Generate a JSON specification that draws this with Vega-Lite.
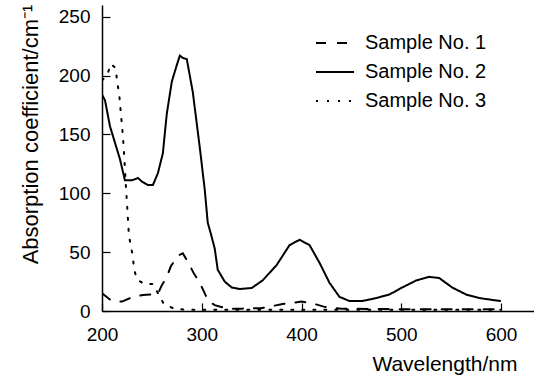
{
  "$schema": "https://vega.github.io/schema/vega-lite/v6.json",
  "autosize": {"type": "none"},
  "padding": {"left": 102, "top": 5, "right": 0, "bottom": 69},
  "width": 432,
  "height": 306,
  "config": {
    "view": {"stroke": null},
    "axis": {"grid": false, "domainColor": "black", "domainWidth": 1.5, "tickColor": "black", "tickWidth": 1.2, "labelColor": "black", "titleColor": "black", "labelFontSize": 19, "titleFontSize": 22, "titleFontWeight": "normal", "labelFlush": false},
    "legend": {"labelFontSize": 20, "labelColor": "black", "padding": 0}
  },
  "data": {"values": [
    {"s": "Sample No. 1", "w": 200, "a": 15},
    {"s": "Sample No. 1", "w": 210, "a": 8.5},
    {"s": "Sample No. 1", "w": 220, "a": 8},
    {"s": "Sample No. 1", "w": 231, "a": 12},
    {"s": "Sample No. 1", "w": 241, "a": 13.5},
    {"s": "Sample No. 1", "w": 256, "a": 14.5},
    {"s": "Sample No. 1", "w": 260, "a": 22},
    {"s": "Sample No. 1", "w": 265, "a": 29},
    {"s": "Sample No. 1", "w": 269, "a": 38},
    {"s": "Sample No. 1", "w": 276, "a": 47},
    {"s": "Sample No. 1", "w": 281, "a": 49},
    {"s": "Sample No. 1", "w": 286, "a": 42},
    {"s": "Sample No. 1", "w": 292, "a": 32},
    {"s": "Sample No. 1", "w": 298, "a": 24},
    {"s": "Sample No. 1", "w": 303, "a": 15},
    {"s": "Sample No. 1", "w": 306, "a": 9},
    {"s": "Sample No. 1", "w": 313, "a": 5},
    {"s": "Sample No. 1", "w": 325, "a": 2},
    {"s": "Sample No. 1", "w": 340, "a": 2},
    {"s": "Sample No. 1", "w": 360, "a": 2.5},
    {"s": "Sample No. 1", "w": 370, "a": 4},
    {"s": "Sample No. 1", "w": 381, "a": 6},
    {"s": "Sample No. 1", "w": 391, "a": 7},
    {"s": "Sample No. 1", "w": 400, "a": 8},
    {"s": "Sample No. 1", "w": 413, "a": 6},
    {"s": "Sample No. 1", "w": 423, "a": 3.5},
    {"s": "Sample No. 1", "w": 440, "a": 2},
    {"s": "Sample No. 1", "w": 500, "a": 1.5},
    {"s": "Sample No. 1", "w": 600, "a": 1.5},
    {"s": "Sample No. 2", "w": 200, "a": 184},
    {"s": "Sample No. 2", "w": 203, "a": 179},
    {"s": "Sample No. 2", "w": 208, "a": 157},
    {"s": "Sample No. 2", "w": 213, "a": 143},
    {"s": "Sample No. 2", "w": 218, "a": 129},
    {"s": "Sample No. 2", "w": 223, "a": 111},
    {"s": "Sample No. 2", "w": 230, "a": 111},
    {"s": "Sample No. 2", "w": 236, "a": 113},
    {"s": "Sample No. 2", "w": 240, "a": 110},
    {"s": "Sample No. 2", "w": 246, "a": 107},
    {"s": "Sample No. 2", "w": 251, "a": 107},
    {"s": "Sample No. 2", "w": 256, "a": 117},
    {"s": "Sample No. 2", "w": 261, "a": 134},
    {"s": "Sample No. 2", "w": 265, "a": 168},
    {"s": "Sample No. 2", "w": 270, "a": 195},
    {"s": "Sample No. 2", "w": 275, "a": 209},
    {"s": "Sample No. 2", "w": 278, "a": 217},
    {"s": "Sample No. 2", "w": 281, "a": 215},
    {"s": "Sample No. 2", "w": 285, "a": 214},
    {"s": "Sample No. 2", "w": 291, "a": 186},
    {"s": "Sample No. 2", "w": 298, "a": 139},
    {"s": "Sample No. 2", "w": 303, "a": 103},
    {"s": "Sample No. 2", "w": 306, "a": 75},
    {"s": "Sample No. 2", "w": 309, "a": 66},
    {"s": "Sample No. 2", "w": 313, "a": 53},
    {"s": "Sample No. 2", "w": 316, "a": 35},
    {"s": "Sample No. 2", "w": 323, "a": 25},
    {"s": "Sample No. 2", "w": 330, "a": 20},
    {"s": "Sample No. 2", "w": 338, "a": 18.7},
    {"s": "Sample No. 2", "w": 350, "a": 19.5},
    {"s": "Sample No. 2", "w": 361, "a": 26},
    {"s": "Sample No. 2", "w": 375, "a": 39},
    {"s": "Sample No. 2", "w": 388, "a": 56},
    {"s": "Sample No. 2", "w": 398, "a": 60.5},
    {"s": "Sample No. 2", "w": 408, "a": 56},
    {"s": "Sample No. 2", "w": 418, "a": 41},
    {"s": "Sample No. 2", "w": 428, "a": 24},
    {"s": "Sample No. 2", "w": 438, "a": 12},
    {"s": "Sample No. 2", "w": 448, "a": 8.5},
    {"s": "Sample No. 2", "w": 461, "a": 8.5},
    {"s": "Sample No. 2", "w": 475, "a": 11},
    {"s": "Sample No. 2", "w": 488, "a": 14},
    {"s": "Sample No. 2", "w": 501, "a": 20},
    {"s": "Sample No. 2", "w": 515, "a": 26},
    {"s": "Sample No. 2", "w": 528, "a": 29},
    {"s": "Sample No. 2", "w": 538, "a": 28},
    {"s": "Sample No. 2", "w": 551, "a": 20},
    {"s": "Sample No. 2", "w": 565, "a": 14},
    {"s": "Sample No. 2", "w": 578, "a": 11},
    {"s": "Sample No. 2", "w": 599, "a": 8.5},
    {"s": "Sample No. 3", "w": 200, "a": 196},
    {"s": "Sample No. 3", "w": 205, "a": 200},
    {"s": "Sample No. 3", "w": 209, "a": 210},
    {"s": "Sample No. 3", "w": 214, "a": 206},
    {"s": "Sample No. 3", "w": 215, "a": 195},
    {"s": "Sample No. 3", "w": 217, "a": 186},
    {"s": "Sample No. 3", "w": 218, "a": 177},
    {"s": "Sample No. 3", "w": 219, "a": 167},
    {"s": "Sample No. 3", "w": 220, "a": 158},
    {"s": "Sample No. 3", "w": 221, "a": 148},
    {"s": "Sample No. 3", "w": 222, "a": 135},
    {"s": "Sample No. 3", "w": 223, "a": 121},
    {"s": "Sample No. 3", "w": 224, "a": 105},
    {"s": "Sample No. 3", "w": 225, "a": 92},
    {"s": "Sample No. 3", "w": 226, "a": 78},
    {"s": "Sample No. 3", "w": 227, "a": 64},
    {"s": "Sample No. 3", "w": 229, "a": 55},
    {"s": "Sample No. 3", "w": 231, "a": 46},
    {"s": "Sample No. 3", "w": 232, "a": 36},
    {"s": "Sample No. 3", "w": 235, "a": 27},
    {"s": "Sample No. 3", "w": 242, "a": 23},
    {"s": "Sample No. 3", "w": 251, "a": 23},
    {"s": "Sample No. 3", "w": 262, "a": 6},
    {"s": "Sample No. 3", "w": 272, "a": 2},
    {"s": "Sample No. 3", "w": 285, "a": 1},
    {"s": "Sample No. 3", "w": 400, "a": 1},
    {"s": "Sample No. 3", "w": 600, "a": 1}
  ]},
  "mark": {"type": "line", "color": "black", "strokeCap": "round", "clip": true},
  "encoding": {
    "x": {"field": "w", "type": "quantitative", "scale": {"domain": [200, 633], "nice": false, "zero": false},
      "axis": {"values": [200, 300, 400, 500, 600], "tickSize": -8, "labelPadding": 22, "title": "Wavelength/nm", "titleFontSize": 21, "titleAnchor": "end", "titleAlign": "right", "titleX": 415, "titleY": 59, "titleBaseline": "alphabetic"}},
    "y": {"field": "a", "type": "quantitative", "scale": {"domain": [0, 260], "nice": false},
      "axis": {"values": [0, 50, 100, 150, 200, 250], "tickSize": -8, "labelPadding": 20, "title": "Absorption coefficient/cm⁻¹", "titleX": -72, "titleY": 129, "titleBaseline": "middle", "titleAlign": "center", "titleAngle": -90}},
    "strokeDash": {"field": "s", "type": "nominal", "title": null,
      "scale": {"domain": ["Sample No. 1", "Sample No. 2", "Sample No. 3"], "range": [[10, 11], [1, 0], [2, 9]]},
      "legend": {"orient": "none", "legendX": 223, "legendY": 28, "symbolType": "M-3.8,0H3.8", "symbolSize": 100, "symbolStrokeColor": "black", "symbolStrokeWidth": 3, "rowPadding": 9, "labelOffset": 20}},
    "strokeWidth": {"field": "s", "type": "nominal", "scale": {"domain": ["Sample No. 1", "Sample No. 2", "Sample No. 3"], "range": [2, 2, 3.2]}, "legend": null}
  }
}
